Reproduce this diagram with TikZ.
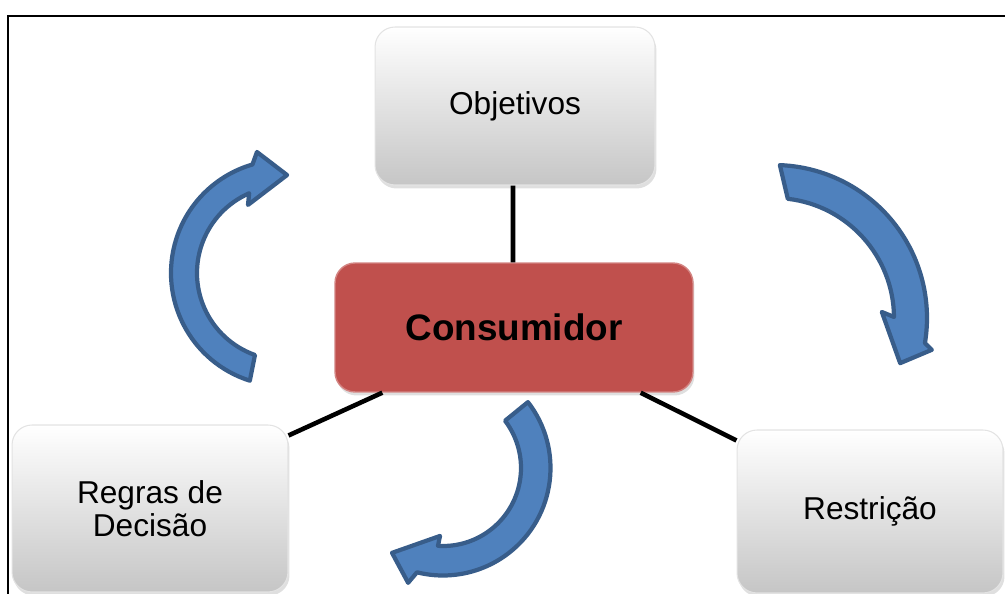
\documentclass[tikz,border=0pt]{standalone}
\usepackage{fontspec}
\setmainfont{Liberation Sans}
\usetikzlibrary{shadows}
\definecolor{turnblue}{HTML}{4F81BD}
\definecolor{turnedge}{HTML}{385D8A}
\definecolor{conred}{HTML}{C0504D}
\tikzset{
  greybox/.style={rounded corners=0.4cm, top color=white, bottom color=gray!45,
    draw=gray!22, line width=0.6pt, inner sep=0pt, align=center,
    font=\fontsize{18}{19}\selectfont,
    drop shadow={opacity=0.25, shadow xshift=0.03cm, shadow yshift=-0.07cm}},
  redbox/.style={rounded corners=0.4cm, fill=conred, draw=conred!70!white,
    line width=0.8pt, inner sep=0pt, font=\fontsize{21}{24}\selectfont\bfseries,
    drop shadow={opacity=0.25, shadow xshift=0.03cm, shadow yshift=-0.07cm}},
  turn/.style={fill=turnblue, draw=turnedge, line width=2.4pt, line join=round},
  link/.style={line width=2.6pt}
}
\begin{document}
\begin{tikzpicture}[x=0.02cm, y=-0.02cm]
\useasboundingbox (0,0) rectangle (1005,594);
\draw[line width=1.1pt] (8,640) -- (8,16) -- (1040,16);

\node[greybox, minimum width=5.6cm, minimum height=3.16cm] (obj) at (515,106) {Objetivos};
\node[redbox, minimum width=7.16cm, minimum height=2.58cm] (con) at (514,327.5) {Consumidor};
\node[greybox, minimum width=5.52cm, minimum height=3.34cm] (reg) at (150,508.5) {Regras de\\Decisão};
\node[greybox, minimum width=5.32cm, minimum height=3.26cm] (res) at (870,511.5) {Restrição};

\draw[link] ([xshift=-0.04cm]obj.south) -- ([xshift=-0.02cm]con.north);
\draw[link] ([xshift=0.96cm]con.south west) -- ([yshift=-0.22cm]reg.north east);
\draw[link] ([xshift=-1.06cm]con.south east) -- ([yshift=-0.22cm]res.north west);

% curved arrows
\draw[turn, shift={(284,273)}] (107.6:113) arc[start angle=107.6, end angle=253.8, radius=113]
  -- (257.4:124) -- (271.8:98) -- (242.1:77) -- (246.4:87)
  arc[start angle=246.4, end angle=109.5, radius=87] -- cycle;
\draw[turn, shift={(774,318)}] (-87.8:153) arc[start angle=-87.8, end angle=9.4, radius=153]
  -- (11.4:161) -- (19.7:134) -- (-3.2:108) -- (-0.5:120)
  arc[start angle=-0.5, end angle=-83.4, radius=120] -- cycle;
\draw[turn, shift={(443,468)}] (-37.8:107.5) arc[start angle=-37.8, end angle=104, radius=107.5]
  -- (106.9:120) -- (121:99) -- (92.5:68) -- (93.7:78)
  arc[start angle=93.7, end angle=-37.3, radius=78] -- cycle;
\end{tikzpicture}
\end{document}
